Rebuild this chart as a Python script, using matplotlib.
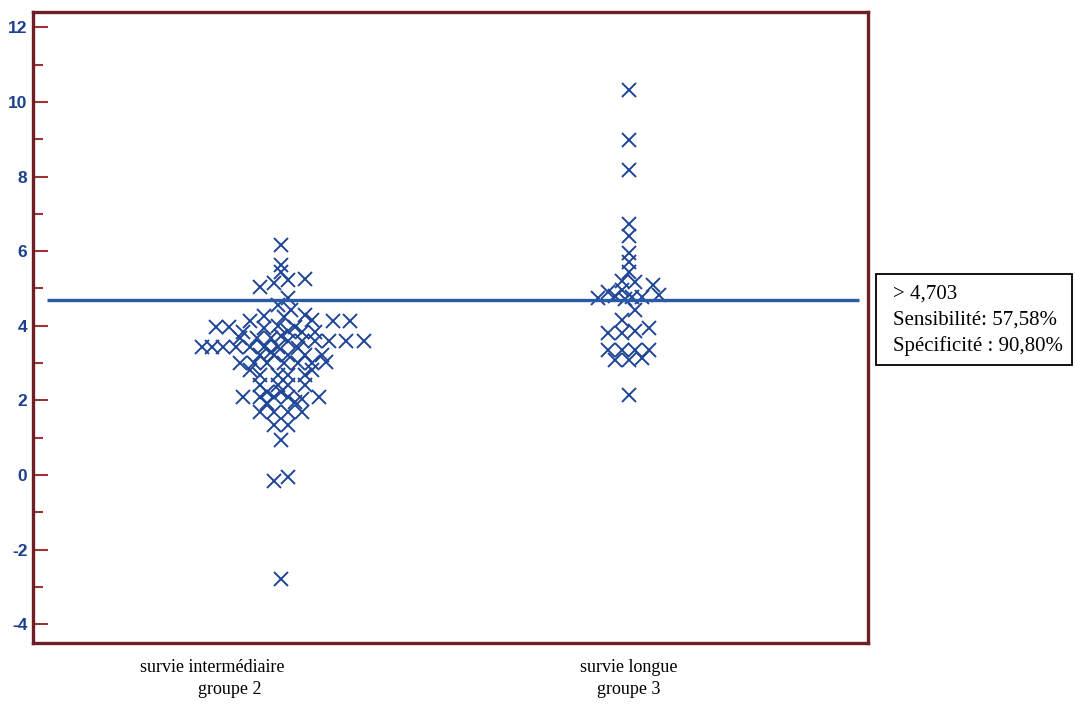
import matplotlib
matplotlib.use("Agg")
import matplotlib.pyplot as plt
from matplotlib.patches import Rectangle
import matplotlib.transforms as mtransforms

plt.rcParams["axes.unicode_minus"] = False

# values, with the small sideways spread of each cross
group2_values = [6.17, 5.63, 5.44, 5.04, 5.15, 5.23, 5.25, 4.75,
                 4.56, 4.42, 4.26, 4.24, 4.29, 4.13, 4.16, 4.13, 4.13,
                 3.97, 3.97, 3.94, 3.99, 3.97, 3.83, 3.86, 3.83, 3.83,
                 3.67, 3.67, 3.67, 3.73, 3.59, 3.59, 3.59, 3.59, 3.59, 3.59,
                 3.43, 3.43, 3.43, 3.43, 3.43, 3.43, 3.43,
                 3.22, 3.22, 3.22, 3.22, 3.22,
                 3.00, 3.00, 3.00, 3.00, 3.00, 3.00, 3.03,
                 2.68, 2.68, 2.68, 2.68, 2.41, 2.41, 2.41, 2.41, 2.23, 2.23,
                 2.09, 2.09, 2.09, 2.09, 2.04, 2.09, 1.93, 1.96,
                 1.69, 1.69, 1.69, 1.69, 1.34, 1.34, 0.94,
                 -0.16, -0.05, -2.79, 3.30, 3.40, 2.82, 2.82]
group2_spread = [-0.01, -0.01, -0.01, -0.07, -0.03, 0.01, 0.06, 0.01,
                 -0.02, 0.02, -0.06, 0.00, 0.06, -0.10, 0.08, 0.14, 0.19,
                 -0.20, -0.16, -0.06, -0.02, 0.03, -0.12, 0.01, 0.05, 0.09,
                 -0.13, -0.08, -0.04, -0.01, 0.01, 0.05, 0.09, 0.13, 0.18, 0.23,
                 -0.24, -0.21, -0.18, -0.14, -0.10, -0.06, -0.02,
                 -0.07, -0.03, 0.01, 0.06, 0.11,
                 -0.13, -0.09, -0.05, 0.00, 0.04, 0.08, 0.12,
                 -0.07, -0.02, 0.01, 0.06, -0.07, -0.02, 0.01, 0.06, -0.05, -0.01,
                 -0.12, -0.07, -0.03, 0.01, 0.05, 0.10, -0.05, 0.03,
                 -0.07, -0.03, 0.01, 0.05, -0.03, 0.01, -0.01,
                 -0.03, 0.01, -0.01, -0.04, 0.04, -0.10, 0.08]

group3_values = [10.32, 8.98, 8.18, 6.73, 6.41, 5.95, 5.71, 5.44,
                 5.20, 5.17, 5.09, 4.91, 4.96, 4.83, 4.77, 4.77, 4.80, 4.75, 4.72,
                 4.42, 4.16, 3.81, 3.81, 3.86, 3.94,
                 3.35, 3.35, 3.35, 3.35, 3.08, 3.08, 3.14, 2.14]
group3_spread = [0.00, 0.00, 0.00, 0.00, 0.00, 0.00, 0.00, 0.00,
                 -0.02, 0.02, 0.07, -0.06, -0.02, 0.09, 0.01, 0.04, -0.04, -0.09, -0.01,
                 0.02, -0.02, -0.06, -0.02, 0.02, 0.06,
                 -0.06, -0.02, 0.02, 0.06, -0.04, 0.00, 0.04, 0.00]

cutoff = 4.703
box_lines = ["> 4,703", "Sensibilité: 57,58%", "Spécificité : 90,80%"]
y_ticks = [-4, -2, 0, 2, 4, 6, 8, 10, 12]

blue = "#1f4596"
frame = "#6e1f26"

fig = plt.figure(figsize=(10.75, 7.09), dpi=100)
ax = fig.add_axes([0.0307, 0.0931, 0.7767, 0.8900])

x2 = [1 + d for d in group2_spread]
x3 = [2 + d for d in group3_spread]
ax.plot(x2, group2_values, "x", color=blue, markersize=9.5, markeredgewidth=1.4)
ax.plot(x3, group3_values, "x", color=blue, markersize=9.5, markeredgewidth=1.4)

# cut-off line
ax.hlines(cutoff, 0.31, 2.67, color="#2a5aa6", linewidth=2.4)

ax.set_xlim(0.269, 2.696)
ax.set_ylim(-4.50, 12.41)

for s in ax.spines.values():
    s.set_color(frame)
    s.set_linewidth(2.4)

ax.set_xticks([])
ax.set_yticks(y_ticks)
ax.set_yticks(range(-3, 12, 2), minor=True)
ax.tick_params(axis="y", which="major", direction="in", length=11, width=1.5,
               color="#9e3535", pad=4, labelsize=12.5, labelcolor="#1d3f8f")
ax.tick_params(axis="y", which="minor", direction="in", length=7, width=1.5,
               color="#9e3535")
for lab in ax.get_yticklabels():
    lab.set_fontfamily("Liberation Sans")
    lab.set_fontweight("bold")

# category labels under the frame
tr = mtransforms.blended_transform_factory(ax.transData, fig.transFigure)
serif = "Liberation Serif"
ax.text(0.79, 1 - 667 / 709, "survie intermédiaire", transform=tr, ha="center",
        va="center", fontsize=13, family=serif)
ax.text(0.84, 1 - 690 / 709, "groupe 2", transform=tr, ha="center",
        va="center", fontsize=13, family=serif)
ax.text(2.0, 1 - 667 / 709, "survie longue", transform=tr, ha="center",
        va="center", fontsize=13, family=serif)
ax.text(2.0, 1 - 690 / 709, "groupe 3", transform=tr, ha="center",
        va="center", fontsize=13, family=serif)

# result box on the right
fig.patches.append(Rectangle((876 / 1075, 1 - 365 / 709), 196 / 1075, 91 / 709,
                             transform=fig.transFigure, fill=False,
                             edgecolor="black", linewidth=1.3))
for i, t in enumerate(box_lines):
    fig.text(893 / 1075, 1 - (294 + 26 * i) / 709, t, ha="left", va="center",
             fontsize=15, family=serif)

fig.savefig("out.png", dpi=100)
